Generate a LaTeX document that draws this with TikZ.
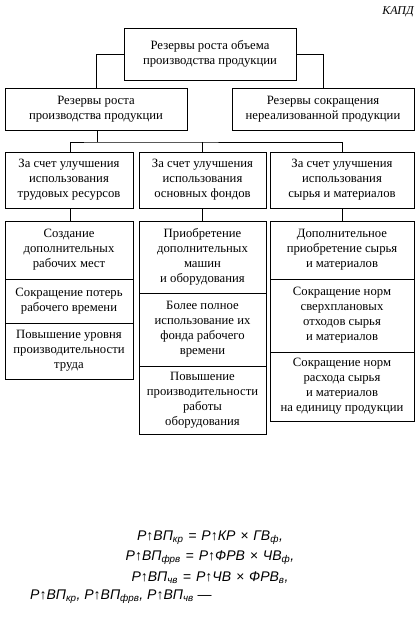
\documentclass[tikz,border=0pt]{standalone}
\usepackage{fontspec}
\setmainfont{Liberation Serif}
\newfontfamily\formfont{Liberation Sans}
\newcommand{\opsp}[1]{\hspace{0.35em}#1\hspace{0.35em}}
\begin{document}
\begin{tikzpicture}[x=1pt,y=-1pt,
  bx/.style={draw,line width=0.9pt,inner sep=0pt,align=center,
    font=\fontsize{12.7}{15}\selectfont},
  ln/.style={line width=0.9pt},
  fm/.style={font=\formfont\itshape\fontsize{14}{16}\selectfont,inner sep=0pt}]
\useasboundingbox (0,0) rectangle (420,621);
\node[inner sep=0pt,font=\itshape\fontsize{12}{14}\selectfont] (kapd) at (398,12) {КАПД};
% level 1
\node[bx,minimum width=172pt,minimum height=52pt] (top) at (210,54) {Резервы роста объема\\производства продукции};
% level 2
\node[bx,minimum width=182pt,minimum height=42pt] (la) at (96,109) {Резервы роста\\производства продукции};
\node[bx,minimum width=182pt,minimum height=42pt] (lb) at (323,109) {Резервы сокращения\\нереализованной продукции};
% level 3
\node[bx,minimum width=128pt,minimum height=56pt] (ma) at (69,180) {За счет улучшения\\использования\\трудовых ресурсов};
\node[bx,minimum width=127pt,minimum height=56pt] (mb) at (202.5,180) {За счет улучшения\\использования\\основных фондов};
\node[bx,minimum width=144pt,minimum height=56pt] (mc) at (342,180) {За счет улучшения\\использования\\сырья и материалов};
% column 1
\node[bx,minimum width=128pt,minimum height=58pt] (a1) at (69,250) {Создание\\дополнительных\\рабочих мест};
\node[bx,minimum width=128pt,minimum height=44pt] (a2) at (69,301) {Сокращение потерь\\рабочего времени};
\node[bx,minimum width=128pt,minimum height=56pt] (a3) at (69,351) {Повышение уровня\\производительности\\труда};
% column 2
\node[bx,minimum width=127pt,minimum height=72pt] (b1) at (202.5,257) {Приобретение\\дополнительных\\машин\\и оборудования};
\node[bx,minimum width=127pt,minimum height=73pt] (b2) at (202.5,329.5) {Более полное\\использование их\\фонда рабочего\\времени};
\node[bx,minimum width=127pt,minimum height=68pt] (b3) at (202.5,400) {Повышение\\производительности\\работы\\оборудования};
% column 3
\node[bx,minimum width=144pt,minimum height=58pt] (c1) at (342,250) {Дополнительное\\приобретение сырья\\и материалов};
\node[bx,minimum width=144pt,minimum height=73pt] (c2) at (342,315.5) {Сокращение норм\\сверхплановых\\отходов  сырья\\и материалов};
\node[bx,minimum width=144pt,minimum height=69pt] (c3) at (342,386.5) {Сокращение  норм\\расхода сырья\\и материалов\\на единицу продукции};
% connectors
\draw[ln] (top.west) -| (la.north);
\draw[ln] (top.east) -| (lb.north);
\coordinate (hub) at (97,142);
\draw[ln] (la.south -| hub) -- (hub);
\draw[ln] (ma.north -| 70,0) |- (hub) -| (mc.north);
\draw[ln] (mb.north) -- (mb.north |- hub);
\draw[ln] (ma.south -| 70,0) -- (a1.north -| 70,0);
\draw[ln] (mb.south) -- (b1.north);
\draw[ln] (mc.south) -- (c1.north);
% formulas
\node[fm] (f1) at (210,538) {Р↑ВП\textsubscript{кр}\opsp{=}Р↑КР\opsp{×}ГВ\textsubscript{ф},};
\node[fm] (f2) at (210,558) {Р↑ВП\textsubscript{фрв}\opsp{=}Р↑ФРВ\opsp{×}ЧВ\textsubscript{ф},};
\node[fm] (f3) at (210,578) {Р↑ВП\textsubscript{чв}\opsp{=}Р↑ЧВ\opsp{×}ФРВ\textsubscript{в},};
\node[fm,anchor=west] (f4) at (30,597) {Р↑ВП\textsubscript{кр}, Р↑ВП\textsubscript{фрв}, Р↑ВП\textsubscript{чв} —};
\end{tikzpicture}
\end{document}
